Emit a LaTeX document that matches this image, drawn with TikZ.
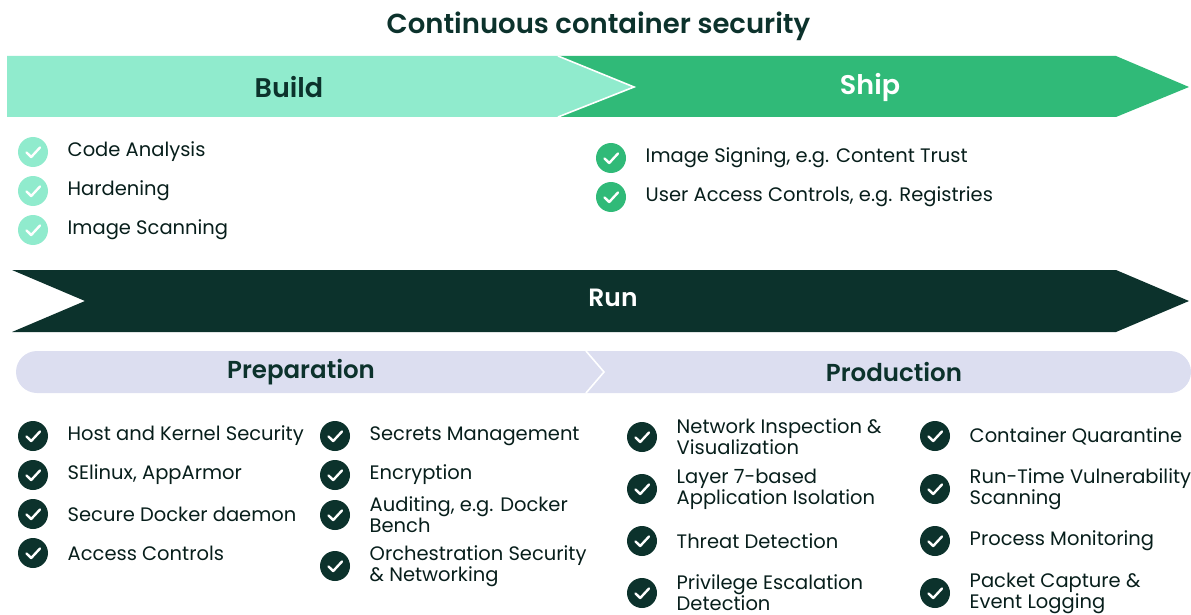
\documentclass[tikz,border=0pt]{standalone}
\usepackage{fontspec}
\setmainfont{Poppins}
\newfontfamily\pmed{Poppins Medium}
\newfontfamily\psemi{Poppins SemiBold}
\definecolor{mint}{HTML}{90EBCD}
\definecolor{jungle}{HTML}{30BA78}
\definecolor{pine}{HTML}{0C322C}
\definecolor{fog}{HTML}{DCDEF0}
\tikzset{
  x=1pt,y=-1pt,
  item/.style={anchor=west,inner sep=0pt,text=pine!60!black,font=\fontsize{19.5}{21}\selectfont,align=left},
  head/.style={inner sep=0pt,font=\psemi\fontsize{27}{30}\selectfont},
  subhead/.style={inner sep=0pt,font=\psemi\fontsize{24.5}{28}\selectfont,text=pine},
  bullet/.style={circle,minimum size=30pt,inner sep=0pt},
  tick/.style={white,line width=2.4pt,line cap=round,line join=round},
}
\newcommand{\chk}[5]{% name, x, y, colour, text
  \node[bullet,fill=#4] (#1) at (#2,#3) {};
  \draw[tick] ([shift={(-6.5,0.5)}]#1.center) -- ([shift={(-1.8,5)}]#1.center) -- ([shift={(7,-4.5)}]#1.center);
  \node[item] (#1t) at (#2+34.5,#3) {#5};
}
\begin{document}
\begin{tikzpicture}
\useasboundingbox (0,0) rectangle (1191,615);
\clip (0,0) rectangle (1191,615);
\node[inner sep=0pt,text=pine,font=\psemi\fontsize{27.5}{30}\selectfont] (title) at (598.5,26) {Continuous container security};

\fill[jungle] (558,56) -- (1116,56) -- (1189,87) -- (1116,117) -- (558,117) -- cycle;
\fill[mint] (7,56) -- (558,56) -- (634,87) -- (558,117) -- (7,117) -- cycle;
\draw[white,line width=1.6pt] (558,56) -- (634,87) -- (558,117);
\node[head,text=pine] (build) at (289,87) {Build};
\node[head,text=white] (ship) at (870,87) {Ship};

\chk{a1}{33}{152}{mint}{Code Analysis}
\chk{a2}{33}{191}{mint}{Hardening}
\chk{a3}{33}{230}{mint}{Image Scanning}
\chk{b1}{611}{158}{jungle}{Image Signing, e.g. Content Trust}
\chk{b2}{611}{197}{jungle}{User Access Controls, e.g. Registries}

\fill[pine] (12,270) -- (1116,270) -- (1189,301) -- (1116,332) -- (12,332) -- (85,301) -- cycle;
\node[head,text=white,font=\psemi\fontsize{25}{28}\selectfont] (run) at (613,298) {Run};

\fill[fog,rounded corners=21pt] (16,351) rectangle (1191,393);
\draw[white,line width=1.6pt] (586,351) -- (604,372) -- (586,393);
\node[subhead] (prep) at (301,372) {Preparation};
\node[subhead] (prod) at (894,372) {Production};

\chk{c1}{33}{436}{pine}{Host and Kernel Security}
\chk{c2}{33}{475}{pine}{SElinux, AppArmor}
\chk{c3}{33}{514}{pine}{Secure Docker daemon}
\chk{c4}{33}{553}{pine}{Access Controls}
\chk{d1}{335}{436}{pine}{Secrets Management}
\chk{d2}{335}{475}{pine}{Encryption}
\chk{d3}{335}{515}{pine}{Auditing, e.g. Docker\\Bench}
\chk{d4}{335}{566}{pine}{Orchestration Security\\\& Networking}
\chk{e1}{642}{437}{pine}{Network Inspection \&\\Visualization}
\chk{e2}{642}{489}{pine}{Layer 7-based\\Application Isolation}
\chk{e3}{642}{541}{pine}{Threat Detection}
\chk{e4}{642}{593}{pine}{Privilege Escalation\\Detection}
\chk{f1}{935}{436}{pine}{Container Quarantine}
\chk{f2}{935}{489}{pine}{Run-Time Vulnerability\\Scanning}
\chk{f3}{935}{541}{pine}{Process Monitoring}
\chk{f4}{935}{593}{pine}{Packet Capture \&\\Event Logging}
\end{tikzpicture}
\end{document}
